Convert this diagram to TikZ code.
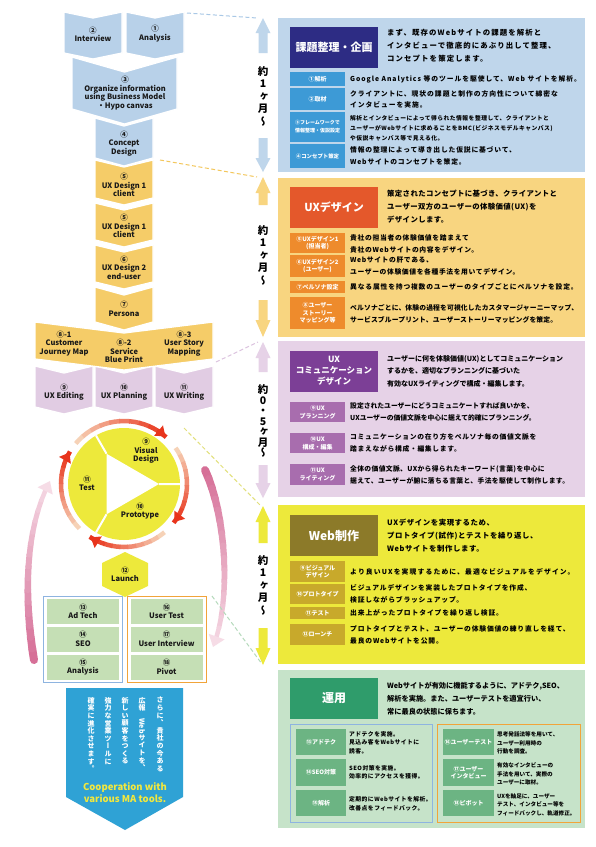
\documentclass[tikz,border=0pt]{standalone}
\usepackage{fontspec}
\setmainfont{Noto Sans CJK JP}
\newfontfamily\jpv{Noto Sans CJK JP}[RawFeature=+vert]
\usetikzlibrary{arrows.meta}

\definecolor{blueA}{HTML}{BFD6EB}
\definecolor{blueL}{HTML}{B8D1E9}
\definecolor{navy}{HTML}{2D2C84}
\definecolor{blueM}{HTML}{3D9AD6}
\definecolor{yelA}{HTML}{F8D580}
\definecolor{yelL}{HTML}{F5CC68}
\definecolor{orgT}{HTML}{E4582B}
\definecolor{orgM}{HTML}{EE8B2C}
\definecolor{purA}{HTML}{E6D2E7}
\definecolor{purL}{HTML}{E1CCE3}
\definecolor{purT}{HTML}{7C3F96}
\definecolor{purM}{HTML}{A86DAE}
\definecolor{limA}{HTML}{EDE93B}
\definecolor{oliT}{HTML}{8C7A29}
\definecolor{oliM}{HTML}{C8A92B}
\definecolor{grnA}{HTML}{C6E3C9}
\definecolor{grnT}{HTML}{2F9C6B}
\definecolor{grnM}{HTML}{6CB483}
\definecolor{grnL}{HTML}{C5DFB5}
\definecolor{boxB}{HTML}{8EB4E0}
\definecolor{boxO}{HTML}{F1A43A}
\definecolor{ringR}{HTML}{E8341C}
\definecolor{ringP}{HTML}{F8E3C8}
\definecolor{pinkD}{HTML}{D66F97}
\definecolor{pinkP}{HTML}{F6DCE6}
\definecolor{arrB}{HTML}{2FA2D5}
\definecolor{txtY}{HTML}{F3E83C}
\definecolor{dashB}{HTML}{A9C8E6}
\definecolor{dashY}{HTML}{F3C75C}
\definecolor{dashP}{HTML}{DCC3DF}
\definecolor{dashL}{HTML}{E2E07A}
\definecolor{dashG}{HTML}{B5DABB}

\newcommand{\chevron}[6]{%
  \filldraw[chev,fill=#6] (#1,#3) -- ({(#1+#2)/2},#3+#5) -- (#2,#3)
    -- (#2,#4) -- ({(#1+#2)/2},#4+#5) -- (#1,#4) -- cycle;}
\newcommand{\uparr}[5]{%
  \fill[#5] (#1,#2) -- (#1+7.5,#3) -- (#1+4.5,#3) -- (#1+4.5,#4)
    -- (#1-4.5,#4) -- (#1-4.5,#3) -- (#1-7.5,#3) -- cycle;}
\newcommand{\dnarr}[5]{%
  \fill[#5] (#1-4.5,#2) -- (#1+4.5,#2) -- (#1+4.5,#3) -- (#1+7.5,#3)
    -- (#1,#4) -- (#1-7.5,#3) -- (#1-4.5,#3) -- cycle;}

\begin{document}
\begin{tikzpicture}[x=1pt,y=-1pt,
  chev/.style={draw=white,line width=1.3pt},
  clab/.style={font=\bfseries\fontsize{7.5}{8.6}\selectfont,align=center,inner sep=0pt,text=black!90},
  cellbox/.style={clab,fill=grnL,minimum width=72pt,minimum height=25pt},
  ttl/.style={font=\bfseries\fontsize{11}{13}\selectfont,text=white,align=center,inner sep=0pt,minimum width=88pt,minimum height=41pt},
  tagbox/.style={font=\bfseries\fontsize{6}{7.6}\selectfont,text=white,align=center,inner sep=0pt,minimum width=55pt},
  dtxt/.style={anchor=west,inner sep=0pt,align=left,font=\bfseries\fontsize{7.4}{13}\selectfont\addfontfeature{LetterSpace=#1}},
  dtxt/.default=10,
  rtxt/.style={anchor=west,inner sep=0pt,align=left,font=\bfseries\fontsize{6.8}{11.8}\selectfont\addfontfeature{LetterSpace=#1}},
  rtxt/.default=12,
  stxt/.style={anchor=west,inner sep=0pt,align=left,font=\bfseries\fontsize{5.8}{8.4}\selectfont\addfontfeature{LetterSpace=#1}},
  stxt/.default=8,
  tate/.style={font=\jpv\bfseries\fontsize{10.5}{12.5}\selectfont,align=center,inner sep=0pt},
  vcol/.style={font=\jpv\bfseries\fontsize{7}{7.6}\selectfont,align=center,inner sep=0pt,text=white,anchor=north},
  dashln/.style={line width=1pt,dash pattern=on 4pt off 2.5pt}]

\fill[white] (0,0) rectangle (596,847);
\useasboundingbox (0,0) rectangle (596,847);

% left flow
\chevron{35}{93}{366}{407}{7}{purL}
\chevron{95}{153}{366}{407}{7}{purL}
\chevron{155}{213}{366}{407}{7}{purL}
\chevron{35}{213}{322}{359}{11}{yelL}
\chevron{95}{153}{287}{322}{8}{yelL}
\chevron{95}{153}{245}{282}{7}{yelL}
\chevron{95}{153}{203}{240}{7}{yelL}
\chevron{95}{153}{160}{198}{7}{yelL}
\chevron{95}{153}{118}{158}{8}{blueL}
\chevron{72}{177}{57}{109}{15}{blueL}
\chevron{64}{122}{12}{53}{6}{blueL}
\chevron{126}{184}{12}{53}{6}{blueL}

\node[clab] (interview) at (93,34.5) {②\\Interview};
\node[clab] (analysis) at (155,33.5) {①\\Analysis};
\node[clab] (organize) at (125,93) {③\\Organize information\\using Business Model\\・Hypo canvas};
\node[clab] (concept) at (124,143.5) {④\\Concept\\Design};
\node[clab] (uxd1a) at (124,185) {⑤\\UX Design 1\\client};
\node[clab] (uxd1b) at (124,226) {⑤\\UX Design 1\\client};
\node[clab] (uxd2) at (124,267.5) {⑥\\UX Design 2\\end-user};
\node[clab] (persona) at (124,309) {⑦\\Persona};
\node[clab] (cjm) at (64,343.5) {⑧-1\\Customer\\Journey Map};
\node[clab] (sbp) at (124,351) {⑧-2\\Service\\Blue Print};
\node[clab] (usm) at (184,343.5) {⑧-3\\User Story\\Mapping};
\node[clab] (uxedit) at (64,392) {⑨\\UX Editing};
\node[clab] (uxplan) at (124,392) {⑩\\UX Planning};
\node[clab] (uxwrite) at (184,392) {⑪\\UX Writing};

% cycle
\coordinate (cyc) at (124,484);
\fill[limA] (cyc) circle[radius=56];
\coordinate (tA) at (159,484);
\coordinate (tB) at (106.5,514.3);
\coordinate (tC) at (106.5,453.7);
\fill[white] (tA) -- (tB) -- (tC) -- cycle;
\draw[white,line width=2pt] (tA) -- (180,484) (tB) -- (96,532.5) (tC) -- (96,435.5);
\foreach \a/\b in {-140/-49,-35/37,50/122,135/210} {
  \foreach \k in {0,...,9} {
    \pgfmathsetmacro\sa{\a+(\b-\a)*\k/10}
    \pgfmathsetmacro\ea{\a+(\b-\a)*(\k+1)/10+1}
    \pgfmathsetmacro\pc{10*\k+10}
    \draw[ringR!\pc!ringP,line width=4.5pt] (cyc) ++(\sa:63) arc[start angle=\sa,end angle=\ea,radius=63];
  }
  \draw[ringR,line width=4.5pt,-{Triangle[length=9pt,width=13pt]}] (cyc) ++(\b-3:63) arc[start angle=\b-3,end angle=\b,radius=63];
}
\node[clab] (visual) at (146,451) {⑨\\Visual\\Design};
\node[clab] (test) at (87,483.5) {⑪\\Test};
\node[clab] (proto) at (140,511) {⑩\\Prototype};

% pink loops
\coordinate (pl1) at (34,660);
\coordinate (pl2) at (50,481);
\coordinate (pr1) at (205,470);
\coordinate (pr2) at (213,647);
\foreach \k in {0,...,16} {
  \path (pl1) .. controls (24,600) and (24,530) .. (pl2) coordinate[pos=\k/16] (pl-\k);
  \path (pr1) .. controls (226,515) and (232,600) .. (pr2) coordinate[pos=\k/16] (pr-\k);
}
\foreach \k in {0,...,14} {
  \pgfmathtruncatemacro\kk{\k+1}
  \pgfmathsetmacro\pc{100-6.5*\k}
  \pgfmathsetmacro\lw{8-0.25*\k}
  \draw[pinkD!\pc!pinkP,line width=\lw pt,line cap=round] (pl-\k) -- (pl-\kk);
  \draw[pinkD!\pc!pinkP,line width=\lw pt,line cap=round] (pr-\k) -- (pr-\kk);
}
\draw[pinkP,line width=4.5pt,-{Triangle[length=11pt,width=16pt]}] (pl-15) -- (pl-16);
\draw[pinkP,line width=4.5pt,-{Triangle[length=11pt,width=16pt]}] (pr-15) -- (pr-16);

% launch and operation
\fill[limA] (125,552) -- (148,563) -- (148,586) -- (125,597) -- (102,586) -- (102,563) -- cycle;
\node[clab] (launch) at (125,574.5) {⑫\\Launch};
\draw[boxB,line width=1pt] (43,596) rectangle (122,682);
\draw[boxO,line width=1pt] (127,596) rectangle (206,682);
\node[cellbox] (adtech) at (83,611.5) {⑬\\Ad Tech};
\node[cellbox] (seo) at (83,639) {⑭\\SEO};
\node[cellbox] (anlys) at (83,667) {⑮\\Analysis};
\node[cellbox] (utest) at (166.5,611.5) {⑯\\User Test};
\node[cellbox] (uintv) at (166.5,639) {⑰\\User Interview};
\node[cellbox] (pivot) at (166.5,667) {⑱\\Pivot};

\fill[arrB] (66,688) -- (183,688) -- (183,797) -- (125,830) -- (66,797) -- cycle;
\node[vcol] (v1) at (160,697) {さ\\ら\\に\\、\\貴\\社\\の\\今\\あ\\る};
\node[vcol] (v2) at (142,697) {広\\報\\\rotatebox{-90}{Web}\\サ\\イ\\ト\\を\\、};
\node[vcol] (v3) at (125,697) {新\\し\\い\\顧\\客\\を\\つ\\く\\る};
\node[vcol] (v4) at (108,697) {強\\力\\な\\営\\業\\ツ\\ー\\ル\\に};
\node[vcol] (v5) at (91,697) {確\\実\\に\\進\\化\\さ\\せ\\ま\\す\\。};
\node[font=\bfseries\fontsize{9.5}{12}\selectfont,text=txtY,align=center,inner sep=0pt] (coop) at (125,793) {Cooperation with\\various MA tools.};

% dashed links
\coordinate (dA1) at (187,13);   \coordinate (dA2) at (257,18);
\coordinate (dB1) at (160,160);  \coordinate (dB2) at (257,177);
\coordinate (dC1) at (216,362);  \coordinate (dC2) at (258,342);
\coordinate (dD1) at (184,428);  \coordinate (dD2) at (260,505);
\coordinate (dE1) at (212,596);  \coordinate (dE2) at (262,664);
\draw[dashln,dashB] (dA1) -- (dA2);
\draw[dashln,dashY] (dB1) -- (dB2);
\draw[dashln,dashP] (dC1) -- (dC2);
\draw[dashln,dashL] (dD1) -- (dD2);
\draw[dashln,dashG] (dE1) -- (dE2);

% period arrows
\uparr{263}{18}{33}{53}{blueA}
\node[tate] (m1) at (263,96) {約\\1\\ヶ\\月\\〜};
\dnarr{263}{138}{158}{172}{blueA}
\uparr{263}{177}{193}{205}{yelA}
\node[tate] (m2) at (263,255) {約\\1\\ヶ\\月\\〜};
\dnarr{263}{300}{320}{337}{yelA}
\uparr{263}{342}{358}{372}{purA}
\node[tate,font=\jpv\bfseries\fontsize{10.5}{10.5}\selectfont] (m3) at (263,421) {約\\0\\・\\5\\ヶ\\月\\〜};
\dnarr{263}{465}{483}{498}{purA}
\uparr{263}{506}{522}{543}{limA}
\node[tate] (m4) at (263,585) {約\\1\\ヶ\\月\\〜};
\dnarr{263}{628}{648}{665}{limA}

% planning
\fill[blueA] (278,18) rectangle (585,172);
\node[ttl,fill=navy] (kadai) at (334,47.5) {課題整理・企画};
\node[dtxt=15] (kadaiTxt) at (387,46) {まず、既存のWebサイトの課題を解析と\\インタビューで徹底的にあぶり出して整理、\\コンセプトを策定します。};
\node[tagbox,fill=blueM,minimum height=14pt] (kaiseki) at (317.5,79) {①解析};
\node[rtxt=14] (kaisekiTxt) at (350,79.5) {Google Analytics 等のツールを駆使して、Web サイトを解析。};
\node[tagbox,fill=blueM,minimum height=22pt] (shuzai) at (317.5,99) {②取材};
\node[rtxt=14] (shuzaiTxt) at (350,99.5) {クライアントに、現状の課題と制作の方向性について綿密な\\インタビューを実施。};
\node[tagbox,fill=blueM,minimum height=30pt,font=\bfseries\fontsize{5}{8}\selectfont] (frame) at (317.5,127) {③フレームワークで\\情報整理・仮説設定};
\node[rtxt,font=\bfseries\fontsize{5.8}{10}\selectfont\addfontfeature{LetterSpace=8}] (frameTxt) at (350,128) {解析とインタビューによって得られた情報を整理して、クライアントと\\ユーザーがWebサイトに求めることをBMC(ビジネスモデルキャンバス)\\や仮説キャンバス等で見える化。};
\node[tagbox,fill=blueM,minimum height=24pt,font=\bfseries\fontsize{5.4}{7}\selectfont] (sakutei) at (317.5,156) {④コンセプト策定};
\node[rtxt=12] (sakuteiTxt) at (350,156) {情報の整理によって導き出した仮説に基づいて、\\Webサイトのコンセプトを策定。};

% ux design
\fill[yelA] (278,178) rectangle (585,337);
\node[ttl,fill=orgT] (uxd) at (334,207.5) {UXデザイン};
\node[dtxt=5] (uxdTxt) at (387,207) {策定されたコンセプトに基づき、クライアントと\\ユーザー双方のユーザーの体験価値(UX)を\\デザインします。};
\node[tagbox,fill=orgM,minimum height=20pt] (uxdA) at (317.5,243) {⑤UXデザイン1\\(担当者)};
\node[rtxt=10] (uxdATxt) at (350,244) {貴社の担当者の体験価値を踏まえて\\貴社のWebサイトの内容をデザイン。};
\node[tagbox,fill=orgM,minimum height=22pt] (uxdB) at (317.5,266) {⑥UXデザイン2\\(ユーザー)};
\node[rtxt=9] (uxdBTxt) at (350,266) {Webサイトの肝である、\\ユーザーの体験価値を各種手法を用いてデザイン。};
\node[tagbox,fill=orgM,minimum height=12pt] (pers) at (317.5,287) {⑦ペルソナ設定};
\node[rtxt=12] (persTxt) at (350,287) {異なる属性を持つ複数のユーザーのタイプごとにペルソナを設定。};
\node[tagbox,fill=orgM,minimum height=32pt] (story) at (317.5,313) {⑧ユーザー\\ストーリー\\マッピング等};
\node[rtxt=2] (storyTxt) at (350,314) {ペルソナごとに、体験の過程を可視化したカスタマージャーニーマップ、\\サービスブループリント、ユーザーストーリーマッピングを策定。};

% ux communication
\fill[purA] (278,341) rectangle (585,497);
\node[ttl,fill=purT,font=\bfseries\fontsize{8.5}{11}\selectfont] (uxc) at (334,371) {UX\\コミュニケーション\\デザイン};
\node[dtxt=1,font=\bfseries\fontsize{7}{12.5}\selectfont] (uxcTxt) at (387,371) {ユーザーに何を体験価値(UX)としてコミュニケーション\\するかを、適切なプランニングに基づいた\\有効なUXライティングで構成・編集します。};
\node[tagbox,fill=purM,minimum height=20pt] (plan) at (317.5,412) {⑨UX\\プランニング};
\node[rtxt=0] (planTxt) at (350,412) {設定されたユーザーにどうコミュニケートすれば良いかを、\\UXユーザーの価値文脈を中心に据えて的確にプランニング。};
\node[tagbox,fill=purM,minimum height=20pt] (edit) at (317.5,443) {⑩UX\\構成・編集};
\node[rtxt=10] (editTxt) at (350,443) {コミュニケーションの在り方をペルソナ毎の価値文脈を\\踏まえながら構成・編集します。};
\node[tagbox,fill=purM,minimum height=21pt] (write) at (317.5,474.5) {⑪UX\\ライティング};
\node[rtxt=5] (writeTxt) at (350,475) {全体の価値文脈、UXから得られたキーワード(言葉)を中心に\\据えて、ユーザーが腑に落ちる言葉と、手法を駆使して制作します。};

% web production
\fill[limA] (278,505) rectangle (585,664);
\node[ttl,fill=oliT,font=\bfseries\fontsize{12}{14}\selectfont] (web) at (334,535.5) {Web制作};
\node[dtxt=8] (webTxt) at (387,536) {UXデザインを実現するため、\\プロトタイプ(試作)とテストを繰り返し、\\Webサイトを制作します。};
\node[tagbox,fill=oliM,minimum height=21pt] (vis) at (317.5,571.5) {⑨ビジュアル\\デザイン};
\node[rtxt=17] (visTxt) at (350,571.5) {より良いUXを実現するために、最適なビジュアルをデザイン。};
\node[tagbox,fill=oliM,minimum height=20pt] (prt) at (317.5,594) {⑩プロトタイプ};
\node[rtxt=12] (prtTxt) at (350,594) {ビジュアルデザインを実装したプロトタイプを作成、\\検証しながらブラッシュアップ。};
\node[tagbox,fill=oliM,minimum height=12pt] (tst) at (317.5,613) {⑪テスト};
\node[rtxt=13] (tstTxt) at (350,613) {出来上がったプロトタイプを繰り返し検証。};
\node[tagbox,fill=oliM,minimum height=21pt] (lnc) at (317.5,634.5) {⑫ローンチ};
\node[rtxt=12] (lncTxt) at (350,635) {プロトタイプとテスト、ユーザーの体験価値の練り直しを経て、\\最良のWebサイトを公開。};

% operation
\fill[grnA] (278,670) rectangle (585,828);
\node[ttl,fill=grnT,font=\bfseries\fontsize{12}{14}\selectfont] (unyo) at (334,698.5) {運用};
\node[dtxt=4,font=\bfseries\fontsize{7.2}{13}\selectfont] (unyoTxt) at (387,699) {Webサイトが有効に機能するように、アドテク,SEO、\\解析を実施。また、ユーザーテストを適宜行い、\\常に最良の状態に保ちます。};
\draw[boxB,line width=1pt] (290,724) rectangle (432,822);
\draw[boxO,line width=1pt] (437,724) rectangle (580,822);
\node[tagbox,fill=grnM,minimum width=50pt,minimum height=26pt] (ad) at (321,742) {⑬アドテク};
\node[stxt=8] (adTxt) at (349,742.5) {アドテクを実施。\\見込み客をWebサイトに\\誘客。};
\node[tagbox,fill=grnM,minimum width=50pt,minimum height=27pt] (seoT) at (321,772.5) {⑭SEO対策};
\node[stxt=8] (seoTxt) at (349,772.5) {SEO対策を実施。\\効率的にアクセスを獲得。};
\node[tagbox,fill=grnM,minimum width=50pt,minimum height=26pt] (kai) at (321,803) {⑮解析};
\node[stxt=8] (kaiTxt) at (349,804) {定期的にWebサイトを解析。\\改善点をフィードバック。};
\node[tagbox,fill=grnM,minimum width=51pt,minimum height=26pt] (ut) at (468.5,742) {⑯ユーザーテスト};
\node[stxt=4,font=\bfseries\fontsize{5.6}{8.4}\selectfont] (utTxt) at (497,743) {思考発話法等を用いて、\\ユーザー利用時の\\行動を調査。};
\node[tagbox,fill=grnM,minimum width=51pt,minimum height=27pt] (ui) at (468.5,772.5) {⑰ユーザー\\インタビュー};
\node[stxt=4,font=\bfseries\fontsize{5.6}{8.4}\selectfont] (uiTxt) at (497,774) {有効なインタビューの\\手法を用いて、実際の\\ユーザーに取材。};
\node[tagbox,fill=grnM,minimum width=51pt,minimum height=26pt] (pv) at (468.5,803) {⑱ピボット};
\node[stxt=0,font=\bfseries\fontsize{5.6}{8.4}\selectfont] (pvTxt) at (497,804.5) {UXを軸足に、ユーザー\\テスト、インタビュー等を\\フィードバックし、軌道修正。};
\end{tikzpicture}
\end{document}
